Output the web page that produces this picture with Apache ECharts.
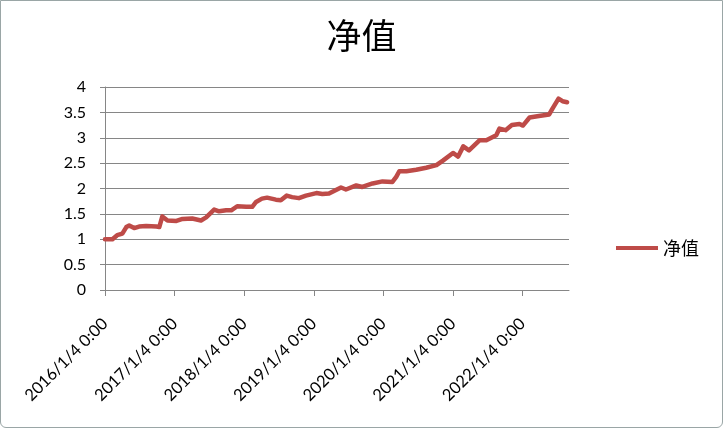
<!DOCTYPE html>
<html>
<head>
<meta charset="utf-8">
<script src="https://cdn.jsdelivr.net/npm/echarts@6/dist/echarts.min.js"></script>
<style>
html,body{margin:0;padding:0;background:#ffffff;}
#frame{position:absolute;left:0;top:0;width:721px;height:426px;border:1px solid #9aa6a6;border-radius:0 0 6px 6px;background:#fff;}
#chart{position:absolute;left:0;top:0;width:723px;height:434px;}
</style>
</head>
<body>
<div id="frame"></div>
<div id="chart"></div>
<script>
const seriesName = '净值';
const dates = [
 '2016-01-04','2016-02-12','2016-03-08','2016-04-04','2016-04-25','2016-05-10','2016-06-05','2016-07-01',
 '2016-08-07','2016-09-30','2016-10-15','2016-10-31','2016-11-27','2017-01-13','2017-02-14','2017-04-06',
 '2017-05-22','2017-06-18','2017-07-30','2017-08-25','2017-10-01','2017-10-28','2017-11-28','2018-01-15',
 '2018-02-15','2018-03-07','2018-04-07','2018-05-04','2018-06-19','2018-07-15','2018-08-15','2018-09-12',
 '2018-10-18','2018-11-24','2019-01-18','2019-02-18','2019-03-25','2019-05-27','2019-06-22','2019-08-15',
 '2019-09-16','2019-11-09','2019-12-31','2020-02-21','2020-03-12','2020-03-28','2020-05-04','2020-06-25',
 '2020-08-16','2020-10-09','2020-11-12','2021-01-04','2021-01-31','2021-02-27','2021-03-29','2021-05-23',
 '2021-06-28','2021-08-19','2021-09-05','2021-10-07','2021-11-09','2021-12-19','2022-01-06','2022-02-10',
 '2022-03-31','2022-05-24','2022-06-11','2022-07-12','2022-08-02','2022-08-26'
];
const values = [
 1.00,1.00,1.08,1.11,1.24,1.27,1.22,1.25,
 1.26,1.25,1.24,1.45,1.37,1.36,1.40,1.41,
 1.37,1.43,1.585,1.55,1.57,1.57,1.65,1.64,
 1.64,1.735,1.80,1.82,1.78,1.77,1.86,1.83,
 1.81,1.86,1.91,1.89,1.90,2.02,1.98,2.06,
 2.03,2.10,2.14,2.13,2.23,2.34,2.34,2.37,
 2.41,2.46,2.55,2.70,2.63,2.83,2.75,2.95,
 2.95,3.05,3.18,3.15,3.25,3.27,3.24,3.40,
 3.43,3.46,3.58,3.77,3.72,3.70
];
const tickLabels = ['2016/1/4 0:00','2017/1/4 0:00','2018/1/4 0:00','2019/1/4 0:00','2020/1/4 0:00','2021/1/4 0:00','2022/1/4 0:00'];
const axisStart = '2016-01-04';
const axisEnd = '2022-09-05';

function toTime(s) {
  const p = s.split(/[-\/ ]/).map(Number);
  return new Date(p[0], p[1] - 1, p[2]).getTime();
}
const tickValues = tickLabels.map(toTime);
const labelMap = {};
tickValues.forEach((t, i) => { labelMap[t] = tickLabels[i]; });
const seriesData = dates.map((d, i) => [toTime(d), values[i]]);

const chart = echarts.init(document.getElementById('chart'), null, {renderer: 'canvas'});
const axisColor = '#868686';
chart.setOption({
  backgroundColor: 'transparent',
  animation: false,
  title: {
    text: seriesName,
    left: 'center',
    top: 13,
    textStyle: {fontFamily: '"Noto Sans CJK SC"', fontSize: 35, fontWeight: 'normal', color: '#000'}
  },
  legend: {
    data: [seriesName],
    left: 611,
    top: 234,
    icon: 'rect',
    itemWidth: 42,
    itemHeight: 4,
    itemGap: 4,
    textStyle: {fontFamily: '"Noto Sans CJK SC"', fontSize: 18, color: '#000'}
  },
  grid: {left: 105, right: 154, top: 87, bottom: 144, containLabel: false},
  xAxis: {
    type: 'value',
    min: toTime(axisStart),
    max: toTime(axisEnd),
    splitLine: {show: false},
    axisLine: {onZero: false, lineStyle: {color: axisColor, width: 1}},
    axisTick: {show: true, length: 6, customValues: tickValues, lineStyle: {color: axisColor}},
    axisLabel: {
      customValues: tickValues,
      rotate: 45,
      margin: 31,
      fontFamily: 'Lato, "Open Sans", sans-serif',
      fontSize: 16.5,
      color: '#000',
      formatter: function (v) { return labelMap[v] || ''; }
    }
  },
  yAxis: {
    type: 'value',
    min: 0,
    max: 4,
    interval: 0.5,
    axisLine: {show: true, lineStyle: {color: axisColor, width: 1}},
    axisTick: {show: true, length: 5, lineStyle: {color: axisColor}},
    splitLine: {lineStyle: {color: axisColor, width: 1}},
    axisLabel: {margin: 19, fontFamily: 'Lato, "Open Sans", sans-serif', fontSize: 16, color: '#000'}
  },
  series: [{
    name: seriesName,
    type: 'line',
    data: seriesData,
    symbol: 'none',
    lineStyle: {color: '#BE4B48', width: 4.5, join: 'round', cap: 'round'},
    itemStyle: {color: '#BE4B48'}
  }]
});
</script>
</body>
</html>
